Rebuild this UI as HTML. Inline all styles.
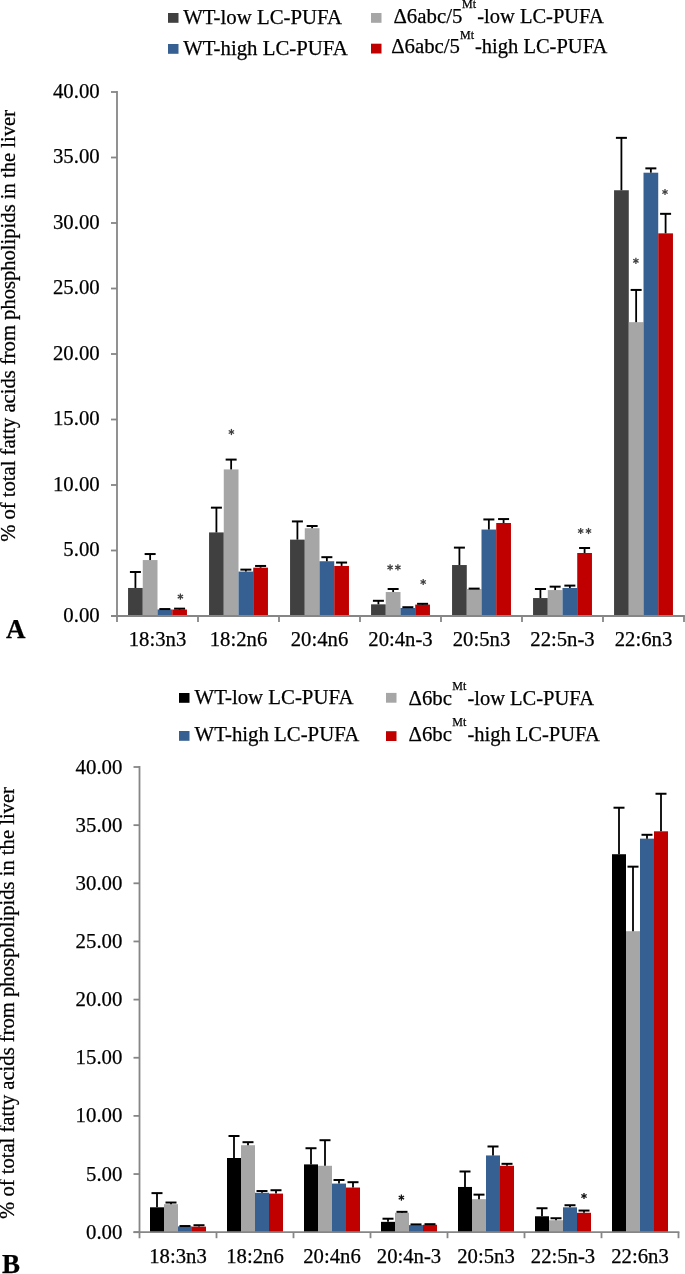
<!DOCTYPE html>
<html><head><meta charset="utf-8"><style>
html,body{margin:0;padding:0;background:#fff;}
svg{display:block;will-change:transform;filter:blur(0.3px);}
.t{font-family:"Liberation Serif",serif;font-size:20.8px;fill:#000;stroke:#000;stroke-width:0.25px;}
.x{font-family:"Liberation Serif",serif;font-size:20.7px;fill:#000;stroke:#000;stroke-width:0.25px;}
.y{font-family:"Liberation Serif",serif;font-size:20.6px;fill:#000;stroke:#000;stroke-width:0.25px;}
.s{font-family:"Liberation Serif",serif;font-size:12px;fill:#000;stroke:#000;stroke-width:0.25px;}
.L{font-family:"Liberation Serif",serif;font-size:27px;font-weight:bold;fill:#000;stroke:#000;stroke-width:0.25px;}
</style></head><body>
<svg width="685" height="1274" viewBox="0 0 685 1274">
<rect width="685" height="1274" fill="#fff"/>
<rect x="168" y="13" width="10.5" height="9.8" fill="#404040"/>
<text x="183.2" y="23.6" class="t">WT-low LC-PUFA</text>
<rect x="168" y="44" width="10.5" height="9.8" fill="#376092"/>
<text x="183.2" y="54.6" class="t">WT-high LC-PUFA</text>
<rect x="371" y="13" width="10.5" height="9.8" fill="#A6A6A6"/>
<text x="393.5" y="23.2" class="t">&#916;6abc/5</text><text x="462" y="8.4" class="s">Mt</text><text x="477.2" y="23.2" class="t" style="font-size:20.5px">-low LC-PUFA</text>
<rect x="371" y="43.7" width="10.5" height="9.8" fill="#C00000"/>
<text x="391.2" y="53.4" class="t">&#916;6abc/5</text><text x="460" y="38.6" class="s">Mt</text><text x="475" y="53.4" class="t" style="font-size:20.5px">-high LC-PUFA</text>
<rect x="128.05" y="587.97" width="14.73" height="28.03" fill="#404040"/>
<rect x="209.05" y="532.42" width="14.73" height="83.58" fill="#404040"/>
<rect x="290.05" y="539.63" width="14.73" height="76.37" fill="#404040"/>
<rect x="371.05" y="604.34" width="14.73" height="11.66" fill="#404040"/>
<rect x="452.05" y="565.04" width="14.73" height="50.96" fill="#404040"/>
<rect x="533.05" y="598.05" width="14.73" height="17.95" fill="#404040"/>
<rect x="614.05" y="190.25" width="14.73" height="425.75" fill="#404040"/>
<rect x="142.77" y="560.06" width="14.73" height="55.94" fill="#A6A6A6"/>
<rect x="223.77" y="469.41" width="14.73" height="146.59" fill="#A6A6A6"/>
<rect x="304.77" y="528.23" width="14.73" height="87.77" fill="#A6A6A6"/>
<rect x="385.77" y="592.03" width="14.73" height="23.97" fill="#A6A6A6"/>
<rect x="466.77" y="589.01" width="14.73" height="26.99" fill="#A6A6A6"/>
<rect x="547.77" y="590.06" width="14.73" height="25.94" fill="#A6A6A6"/>
<rect x="628.77" y="322.17" width="14.73" height="293.83" fill="#A6A6A6"/>
<rect x="157.50" y="609.45" width="14.73" height="6.55" fill="#376092"/>
<rect x="238.50" y="571.59" width="14.73" height="44.41" fill="#376092"/>
<rect x="319.50" y="561.24" width="14.73" height="54.76" fill="#376092"/>
<rect x="400.50" y="608.01" width="14.73" height="7.99" fill="#376092"/>
<rect x="481.50" y="529.54" width="14.73" height="86.46" fill="#376092"/>
<rect x="562.50" y="587.97" width="14.73" height="28.03" fill="#376092"/>
<rect x="643.50" y="172.70" width="14.73" height="443.30" fill="#376092"/>
<rect x="172.23" y="609.58" width="14.73" height="6.42" fill="#C00000"/>
<rect x="253.23" y="567.66" width="14.73" height="48.34" fill="#C00000"/>
<rect x="334.23" y="565.96" width="14.73" height="50.04" fill="#C00000"/>
<rect x="415.23" y="604.60" width="14.73" height="11.40" fill="#C00000"/>
<rect x="496.23" y="522.99" width="14.73" height="93.01" fill="#C00000"/>
<rect x="577.23" y="552.99" width="14.73" height="63.01" fill="#C00000"/>
<rect x="658.23" y="233.35" width="14.73" height="382.65" fill="#C00000"/>
<line x1="135.41" y1="587.97" x2="135.41" y2="571.98" stroke="#000" stroke-width="1.8"/>
<line x1="129.91" y1="571.98" x2="140.91" y2="571.98" stroke="#000" stroke-width="2"/>
<line x1="216.41" y1="532.42" x2="216.41" y2="507.66" stroke="#000" stroke-width="1.8"/>
<line x1="210.91" y1="507.66" x2="221.91" y2="507.66" stroke="#000" stroke-width="2"/>
<line x1="297.41" y1="539.63" x2="297.41" y2="521.42" stroke="#000" stroke-width="1.8"/>
<line x1="291.91" y1="521.42" x2="302.91" y2="521.42" stroke="#000" stroke-width="2"/>
<line x1="378.41" y1="604.34" x2="378.41" y2="600.80" stroke="#000" stroke-width="1.8"/>
<line x1="372.91" y1="600.80" x2="383.91" y2="600.80" stroke="#000" stroke-width="2"/>
<line x1="459.41" y1="565.04" x2="459.41" y2="547.62" stroke="#000" stroke-width="1.8"/>
<line x1="453.91" y1="547.62" x2="464.91" y2="547.62" stroke="#000" stroke-width="2"/>
<line x1="540.41" y1="598.05" x2="540.41" y2="589.01" stroke="#000" stroke-width="1.8"/>
<line x1="534.91" y1="589.01" x2="545.91" y2="589.01" stroke="#000" stroke-width="2"/>
<line x1="621.41" y1="190.25" x2="621.41" y2="137.85" stroke="#000" stroke-width="1.8"/>
<line x1="615.91" y1="137.85" x2="626.91" y2="137.85" stroke="#000" stroke-width="2"/>
<line x1="150.14" y1="560.06" x2="150.14" y2="554.04" stroke="#000" stroke-width="1.8"/>
<line x1="144.64" y1="554.04" x2="155.64" y2="554.04" stroke="#000" stroke-width="2"/>
<line x1="231.14" y1="469.41" x2="231.14" y2="459.59" stroke="#000" stroke-width="1.8"/>
<line x1="225.64" y1="459.59" x2="236.64" y2="459.59" stroke="#000" stroke-width="2"/>
<line x1="312.14" y1="528.23" x2="312.14" y2="526.00" stroke="#000" stroke-width="1.8"/>
<line x1="306.64" y1="526.00" x2="317.64" y2="526.00" stroke="#000" stroke-width="2"/>
<line x1="393.14" y1="592.03" x2="393.14" y2="589.01" stroke="#000" stroke-width="1.8"/>
<line x1="387.64" y1="589.01" x2="398.64" y2="589.01" stroke="#000" stroke-width="2"/>
<line x1="474.14" y1="589.01" x2="474.14" y2="588.62" stroke="#000" stroke-width="1.8"/>
<line x1="468.64" y1="588.62" x2="479.64" y2="588.62" stroke="#000" stroke-width="2"/>
<line x1="555.14" y1="590.06" x2="555.14" y2="586.66" stroke="#000" stroke-width="1.8"/>
<line x1="549.64" y1="586.66" x2="560.64" y2="586.66" stroke="#000" stroke-width="2"/>
<line x1="636.14" y1="322.17" x2="636.14" y2="289.94" stroke="#000" stroke-width="1.8"/>
<line x1="630.64" y1="289.94" x2="641.64" y2="289.94" stroke="#000" stroke-width="2"/>
<line x1="164.86" y1="609.45" x2="164.86" y2="609.06" stroke="#000" stroke-width="1.8"/>
<line x1="159.36" y1="609.06" x2="170.36" y2="609.06" stroke="#000" stroke-width="2"/>
<line x1="245.86" y1="571.59" x2="245.86" y2="569.63" stroke="#000" stroke-width="1.8"/>
<line x1="240.36" y1="569.63" x2="251.36" y2="569.63" stroke="#000" stroke-width="2"/>
<line x1="326.86" y1="561.24" x2="326.86" y2="557.18" stroke="#000" stroke-width="1.8"/>
<line x1="321.36" y1="557.18" x2="332.36" y2="557.18" stroke="#000" stroke-width="2"/>
<line x1="407.86" y1="608.01" x2="407.86" y2="607.22" stroke="#000" stroke-width="1.8"/>
<line x1="402.36" y1="607.22" x2="413.36" y2="607.22" stroke="#000" stroke-width="2"/>
<line x1="488.86" y1="529.54" x2="488.86" y2="519.45" stroke="#000" stroke-width="1.8"/>
<line x1="483.36" y1="519.45" x2="494.36" y2="519.45" stroke="#000" stroke-width="2"/>
<line x1="569.86" y1="587.97" x2="569.86" y2="585.61" stroke="#000" stroke-width="1.8"/>
<line x1="564.36" y1="585.61" x2="575.36" y2="585.61" stroke="#000" stroke-width="2"/>
<line x1="650.86" y1="172.70" x2="650.86" y2="168.37" stroke="#000" stroke-width="1.8"/>
<line x1="645.36" y1="168.37" x2="656.36" y2="168.37" stroke="#000" stroke-width="2"/>
<line x1="179.59" y1="609.58" x2="179.59" y2="608.66" stroke="#000" stroke-width="1.8"/>
<line x1="174.09" y1="608.66" x2="185.09" y2="608.66" stroke="#000" stroke-width="2"/>
<line x1="260.59" y1="567.66" x2="260.59" y2="565.96" stroke="#000" stroke-width="1.8"/>
<line x1="255.09" y1="565.96" x2="266.09" y2="565.96" stroke="#000" stroke-width="2"/>
<line x1="341.59" y1="565.96" x2="341.59" y2="562.55" stroke="#000" stroke-width="1.8"/>
<line x1="336.09" y1="562.55" x2="347.09" y2="562.55" stroke="#000" stroke-width="2"/>
<line x1="422.59" y1="604.60" x2="422.59" y2="603.82" stroke="#000" stroke-width="1.8"/>
<line x1="417.09" y1="603.82" x2="428.09" y2="603.82" stroke="#000" stroke-width="2"/>
<line x1="503.59" y1="522.99" x2="503.59" y2="519.06" stroke="#000" stroke-width="1.8"/>
<line x1="498.09" y1="519.06" x2="509.09" y2="519.06" stroke="#000" stroke-width="2"/>
<line x1="584.59" y1="552.99" x2="584.59" y2="548.01" stroke="#000" stroke-width="1.8"/>
<line x1="579.09" y1="548.01" x2="590.09" y2="548.01" stroke="#000" stroke-width="2"/>
<line x1="665.59" y1="233.35" x2="665.59" y2="213.83" stroke="#000" stroke-width="1.8"/>
<line x1="660.09" y1="213.83" x2="671.09" y2="213.83" stroke="#000" stroke-width="2"/>
<line x1="117" y1="91.00" x2="117" y2="622.00" stroke="#868686" stroke-width="1.8"/>
<line x1="111" y1="616" x2="684.90" y2="616" stroke="#868686" stroke-width="1.8"/>
<line x1="111" y1="616.00" x2="117" y2="616.00" stroke="#868686" stroke-width="1.8"/>
<text x="99.7" y="621.90" text-anchor="end" class="t">0.00</text>
<line x1="111" y1="550.50" x2="117" y2="550.50" stroke="#868686" stroke-width="1.8"/>
<text x="99.7" y="556.40" text-anchor="end" class="t">5.00</text>
<line x1="111" y1="485.00" x2="117" y2="485.00" stroke="#868686" stroke-width="1.8"/>
<text x="99.7" y="490.90" text-anchor="end" class="t">10.00</text>
<line x1="111" y1="419.50" x2="117" y2="419.50" stroke="#868686" stroke-width="1.8"/>
<text x="99.7" y="425.40" text-anchor="end" class="t">15.00</text>
<line x1="111" y1="354.00" x2="117" y2="354.00" stroke="#868686" stroke-width="1.8"/>
<text x="99.7" y="359.90" text-anchor="end" class="t">20.00</text>
<line x1="111" y1="288.50" x2="117" y2="288.50" stroke="#868686" stroke-width="1.8"/>
<text x="99.7" y="294.40" text-anchor="end" class="t">25.00</text>
<line x1="111" y1="223.00" x2="117" y2="223.00" stroke="#868686" stroke-width="1.8"/>
<text x="99.7" y="228.90" text-anchor="end" class="t">30.00</text>
<line x1="111" y1="157.50" x2="117" y2="157.50" stroke="#868686" stroke-width="1.8"/>
<text x="99.7" y="163.40" text-anchor="end" class="t">35.00</text>
<line x1="111" y1="92.00" x2="117" y2="92.00" stroke="#868686" stroke-width="1.8"/>
<text x="99.7" y="97.90" text-anchor="end" class="t">40.00</text>
<line x1="198.00" y1="616" x2="198.00" y2="622.00" stroke="#868686" stroke-width="1.8"/>
<line x1="279.00" y1="616" x2="279.00" y2="622.00" stroke="#868686" stroke-width="1.8"/>
<line x1="360.00" y1="616" x2="360.00" y2="622.00" stroke="#868686" stroke-width="1.8"/>
<line x1="441.00" y1="616" x2="441.00" y2="622.00" stroke="#868686" stroke-width="1.8"/>
<line x1="522.00" y1="616" x2="522.00" y2="622.00" stroke="#868686" stroke-width="1.8"/>
<line x1="603.00" y1="616" x2="603.00" y2="622.00" stroke="#868686" stroke-width="1.8"/>
<line x1="684.00" y1="616" x2="684.00" y2="622.00" stroke="#868686" stroke-width="1.8"/>
<text x="157.50" y="646.4" text-anchor="middle" class="x">18:3n3</text>
<text x="238.50" y="646.4" text-anchor="middle" class="x">18:2n6</text>
<text x="319.50" y="646.4" text-anchor="middle" class="x">20:4n6</text>
<text x="400.50" y="646.4" text-anchor="middle" class="x">20:4n-3</text>
<text x="481.50" y="646.4" text-anchor="middle" class="x">20:5n3</text>
<text x="562.50" y="646.4" text-anchor="middle" class="x">22:5n-3</text>
<text x="643.50" y="646.4" text-anchor="middle" class="x">22:6n3</text>
<text transform="translate(15.1,325.9) rotate(-90)" text-anchor="middle" class="y">% of total fatty acids from phospholipids in the liver</text>
<line x1="180.40" y1="593.50" x2="180.40" y2="599.70" stroke="#404040" stroke-width="1.3"/><line x1="177.72" y1="595.05" x2="183.08" y2="598.15" stroke="#404040" stroke-width="1.3"/><line x1="183.08" y1="595.05" x2="177.72" y2="598.15" stroke="#404040" stroke-width="1.3"/>
<line x1="231.40" y1="428.90" x2="231.40" y2="435.10" stroke="#404040" stroke-width="1.3"/><line x1="228.72" y1="430.45" x2="234.08" y2="433.55" stroke="#404040" stroke-width="1.3"/><line x1="234.08" y1="430.45" x2="228.72" y2="433.55" stroke="#404040" stroke-width="1.3"/>
<line x1="390.10" y1="564.30" x2="390.10" y2="570.50" stroke="#404040" stroke-width="1.3"/><line x1="387.42" y1="565.85" x2="392.78" y2="568.95" stroke="#404040" stroke-width="1.3"/><line x1="392.78" y1="565.85" x2="387.42" y2="568.95" stroke="#404040" stroke-width="1.3"/>
<line x1="397.90" y1="564.30" x2="397.90" y2="570.50" stroke="#404040" stroke-width="1.3"/><line x1="395.22" y1="565.85" x2="400.58" y2="568.95" stroke="#404040" stroke-width="1.3"/><line x1="400.58" y1="565.85" x2="395.22" y2="568.95" stroke="#404040" stroke-width="1.3"/>
<line x1="423.20" y1="578.90" x2="423.20" y2="585.10" stroke="#404040" stroke-width="1.3"/><line x1="420.52" y1="580.45" x2="425.88" y2="583.55" stroke="#404040" stroke-width="1.3"/><line x1="425.88" y1="580.45" x2="420.52" y2="583.55" stroke="#404040" stroke-width="1.3"/>
<line x1="580.70" y1="527.90" x2="580.70" y2="534.10" stroke="#404040" stroke-width="1.3"/><line x1="578.02" y1="529.45" x2="583.38" y2="532.55" stroke="#404040" stroke-width="1.3"/><line x1="583.38" y1="529.45" x2="578.02" y2="532.55" stroke="#404040" stroke-width="1.3"/>
<line x1="588.50" y1="527.90" x2="588.50" y2="534.10" stroke="#404040" stroke-width="1.3"/><line x1="585.82" y1="529.45" x2="591.18" y2="532.55" stroke="#404040" stroke-width="1.3"/><line x1="591.18" y1="529.45" x2="585.82" y2="532.55" stroke="#404040" stroke-width="1.3"/>
<line x1="635.90" y1="257.70" x2="635.90" y2="263.90" stroke="#404040" stroke-width="1.3"/><line x1="633.22" y1="259.25" x2="638.58" y2="262.35" stroke="#404040" stroke-width="1.3"/><line x1="638.58" y1="259.25" x2="633.22" y2="262.35" stroke="#404040" stroke-width="1.3"/>
<line x1="665.00" y1="188.90" x2="665.00" y2="195.10" stroke="#404040" stroke-width="1.3"/><line x1="662.32" y1="190.45" x2="667.68" y2="193.55" stroke="#404040" stroke-width="1.3"/><line x1="667.68" y1="190.45" x2="662.32" y2="193.55" stroke="#404040" stroke-width="1.3"/>
<text x="6" y="638" class="L">A</text>
<rect x="179" y="693" width="10.5" height="9.8" fill="#000000"/>
<text x="194.6" y="704.4" class="t">WT-low LC-PUFA</text>
<rect x="179" y="731" width="10.5" height="9.8" fill="#376092"/>
<text x="194.6" y="741.4" class="t">WT-high LC-PUFA</text>
<rect x="386" y="692.9" width="10.5" height="9.8" fill="#A6A6A6"/>
<text x="408.6" y="704.9" class="t">&#916;6bc</text><text x="452.3" y="690.1" class="s">Mt</text><text x="467.4" y="704.9" class="t" style="font-size:20.5px">-low LC-PUFA</text>
<rect x="386" y="731.2" width="10.5" height="9.8" fill="#C00000"/>
<text x="408.6" y="740.7" class="t">&#916;6bc</text><text x="452.3" y="725.9" class="s">Mt</text><text x="467.4" y="740.7" class="t" style="font-size:20.5px">-high LC-PUFA</text>
<rect x="150.00" y="1207.31" width="14.00" height="24.89" fill="#000000"/>
<rect x="227.00" y="1158.00" width="14.00" height="74.20" fill="#000000"/>
<rect x="304.00" y="1164.40" width="14.00" height="67.80" fill="#000000"/>
<rect x="381.00" y="1221.85" width="14.00" height="10.35" fill="#000000"/>
<rect x="458.00" y="1186.96" width="14.00" height="45.24" fill="#000000"/>
<rect x="535.00" y="1216.27" width="14.00" height="15.93" fill="#000000"/>
<rect x="612.00" y="854.23" width="14.00" height="377.98" fill="#000000"/>
<rect x="164.00" y="1204.17" width="14.00" height="28.03" fill="#A6A6A6"/>
<rect x="241.00" y="1145.21" width="14.00" height="86.99" fill="#A6A6A6"/>
<rect x="318.00" y="1165.79" width="14.00" height="66.41" fill="#A6A6A6"/>
<rect x="395.00" y="1212.78" width="14.00" height="19.42" fill="#A6A6A6"/>
<rect x="472.00" y="1199.17" width="14.00" height="33.03" fill="#A6A6A6"/>
<rect x="549.00" y="1220.22" width="14.00" height="11.98" fill="#A6A6A6"/>
<rect x="626.00" y="931.22" width="14.00" height="300.98" fill="#A6A6A6"/>
<rect x="178.00" y="1226.38" width="14.00" height="5.82" fill="#376092"/>
<rect x="255.00" y="1192.77" width="14.00" height="39.43" fill="#376092"/>
<rect x="332.00" y="1183.59" width="14.00" height="48.61" fill="#376092"/>
<rect x="409.00" y="1225.11" width="14.00" height="7.09" fill="#376092"/>
<rect x="486.00" y="1155.44" width="14.00" height="76.76" fill="#376092"/>
<rect x="563.00" y="1207.31" width="14.00" height="24.89" fill="#376092"/>
<rect x="640.00" y="838.64" width="14.00" height="393.56" fill="#376092"/>
<rect x="192.00" y="1226.62" width="14.00" height="5.58" fill="#C00000"/>
<rect x="269.00" y="1193.59" width="14.00" height="38.61" fill="#C00000"/>
<rect x="346.00" y="1187.54" width="14.00" height="44.66" fill="#C00000"/>
<rect x="423.00" y="1224.76" width="14.00" height="7.44" fill="#C00000"/>
<rect x="500.00" y="1165.79" width="14.00" height="66.41" fill="#C00000"/>
<rect x="577.00" y="1212.78" width="14.00" height="19.42" fill="#C00000"/>
<rect x="654.00" y="831.31" width="14.00" height="400.89" fill="#C00000"/>
<line x1="157.00" y1="1207.31" x2="157.00" y2="1193.12" stroke="#000" stroke-width="1.8"/>
<line x1="151.50" y1="1193.12" x2="162.50" y2="1193.12" stroke="#000" stroke-width="2"/>
<line x1="234.00" y1="1158.00" x2="234.00" y2="1136.02" stroke="#000" stroke-width="1.8"/>
<line x1="228.50" y1="1136.02" x2="239.50" y2="1136.02" stroke="#000" stroke-width="2"/>
<line x1="311.00" y1="1164.40" x2="311.00" y2="1148.23" stroke="#000" stroke-width="1.8"/>
<line x1="305.50" y1="1148.23" x2="316.50" y2="1148.23" stroke="#000" stroke-width="2"/>
<line x1="388.00" y1="1221.85" x2="388.00" y2="1218.71" stroke="#000" stroke-width="1.8"/>
<line x1="382.50" y1="1218.71" x2="393.50" y2="1218.71" stroke="#000" stroke-width="2"/>
<line x1="465.00" y1="1186.96" x2="465.00" y2="1171.49" stroke="#000" stroke-width="1.8"/>
<line x1="459.50" y1="1171.49" x2="470.50" y2="1171.49" stroke="#000" stroke-width="2"/>
<line x1="542.00" y1="1216.27" x2="542.00" y2="1208.24" stroke="#000" stroke-width="1.8"/>
<line x1="536.50" y1="1208.24" x2="547.50" y2="1208.24" stroke="#000" stroke-width="2"/>
<line x1="619.00" y1="854.23" x2="619.00" y2="807.71" stroke="#000" stroke-width="1.8"/>
<line x1="613.50" y1="807.71" x2="624.50" y2="807.71" stroke="#000" stroke-width="2"/>
<line x1="171.00" y1="1204.17" x2="171.00" y2="1202.54" stroke="#000" stroke-width="1.8"/>
<line x1="165.50" y1="1202.54" x2="176.50" y2="1202.54" stroke="#000" stroke-width="2"/>
<line x1="248.00" y1="1145.21" x2="248.00" y2="1142.18" stroke="#000" stroke-width="1.8"/>
<line x1="242.50" y1="1142.18" x2="253.50" y2="1142.18" stroke="#000" stroke-width="2"/>
<line x1="325.00" y1="1165.79" x2="325.00" y2="1140.21" stroke="#000" stroke-width="1.8"/>
<line x1="319.50" y1="1140.21" x2="330.50" y2="1140.21" stroke="#000" stroke-width="2"/>
<line x1="402.00" y1="1212.78" x2="402.00" y2="1211.85" stroke="#000" stroke-width="1.8"/>
<line x1="396.50" y1="1211.85" x2="407.50" y2="1211.85" stroke="#000" stroke-width="2"/>
<line x1="479.00" y1="1199.17" x2="479.00" y2="1194.64" stroke="#000" stroke-width="1.8"/>
<line x1="473.50" y1="1194.64" x2="484.50" y2="1194.64" stroke="#000" stroke-width="2"/>
<line x1="556.00" y1="1220.22" x2="556.00" y2="1218.24" stroke="#000" stroke-width="1.8"/>
<line x1="550.50" y1="1218.24" x2="561.50" y2="1218.24" stroke="#000" stroke-width="2"/>
<line x1="633.00" y1="931.22" x2="633.00" y2="866.67" stroke="#000" stroke-width="1.8"/>
<line x1="627.50" y1="866.67" x2="638.50" y2="866.67" stroke="#000" stroke-width="2"/>
<line x1="185.00" y1="1226.38" x2="185.00" y2="1226.04" stroke="#000" stroke-width="1.8"/>
<line x1="179.50" y1="1226.04" x2="190.50" y2="1226.04" stroke="#000" stroke-width="2"/>
<line x1="262.00" y1="1192.77" x2="262.00" y2="1191.03" stroke="#000" stroke-width="1.8"/>
<line x1="256.50" y1="1191.03" x2="267.50" y2="1191.03" stroke="#000" stroke-width="2"/>
<line x1="339.00" y1="1183.59" x2="339.00" y2="1179.98" stroke="#000" stroke-width="1.8"/>
<line x1="333.50" y1="1179.98" x2="344.50" y2="1179.98" stroke="#000" stroke-width="2"/>
<line x1="416.00" y1="1225.11" x2="416.00" y2="1224.41" stroke="#000" stroke-width="1.8"/>
<line x1="410.50" y1="1224.41" x2="421.50" y2="1224.41" stroke="#000" stroke-width="2"/>
<line x1="493.00" y1="1155.44" x2="493.00" y2="1146.49" stroke="#000" stroke-width="1.8"/>
<line x1="487.50" y1="1146.49" x2="498.50" y2="1146.49" stroke="#000" stroke-width="2"/>
<line x1="570.00" y1="1207.31" x2="570.00" y2="1205.22" stroke="#000" stroke-width="1.8"/>
<line x1="564.50" y1="1205.22" x2="575.50" y2="1205.22" stroke="#000" stroke-width="2"/>
<line x1="647.00" y1="838.64" x2="647.00" y2="834.80" stroke="#000" stroke-width="1.8"/>
<line x1="641.50" y1="834.80" x2="652.50" y2="834.80" stroke="#000" stroke-width="2"/>
<line x1="199.00" y1="1226.62" x2="199.00" y2="1225.22" stroke="#000" stroke-width="1.8"/>
<line x1="193.50" y1="1225.22" x2="204.50" y2="1225.22" stroke="#000" stroke-width="2"/>
<line x1="276.00" y1="1193.59" x2="276.00" y2="1190.22" stroke="#000" stroke-width="1.8"/>
<line x1="270.50" y1="1190.22" x2="281.50" y2="1190.22" stroke="#000" stroke-width="2"/>
<line x1="353.00" y1="1187.54" x2="353.00" y2="1182.19" stroke="#000" stroke-width="1.8"/>
<line x1="347.50" y1="1182.19" x2="358.50" y2="1182.19" stroke="#000" stroke-width="2"/>
<line x1="430.00" y1="1224.76" x2="430.00" y2="1224.18" stroke="#000" stroke-width="1.8"/>
<line x1="424.50" y1="1224.18" x2="435.50" y2="1224.18" stroke="#000" stroke-width="2"/>
<line x1="507.00" y1="1165.79" x2="507.00" y2="1163.82" stroke="#000" stroke-width="1.8"/>
<line x1="501.50" y1="1163.82" x2="512.50" y2="1163.82" stroke="#000" stroke-width="2"/>
<line x1="584.00" y1="1212.78" x2="584.00" y2="1210.57" stroke="#000" stroke-width="1.8"/>
<line x1="578.50" y1="1210.57" x2="589.50" y2="1210.57" stroke="#000" stroke-width="2"/>
<line x1="661.00" y1="831.31" x2="661.00" y2="793.75" stroke="#000" stroke-width="1.8"/>
<line x1="655.50" y1="793.75" x2="666.50" y2="793.75" stroke="#000" stroke-width="2"/>
<line x1="139.5" y1="766.00" x2="139.5" y2="1238.20" stroke="#868686" stroke-width="1.8"/>
<line x1="133.5" y1="1232.2" x2="679.40" y2="1232.2" stroke="#868686" stroke-width="1.8"/>
<line x1="133.5" y1="1232.20" x2="139.5" y2="1232.20" stroke="#868686" stroke-width="1.8"/>
<text x="122.4" y="1238.70" text-anchor="end" class="t">0.00</text>
<line x1="133.5" y1="1174.05" x2="139.5" y2="1174.05" stroke="#868686" stroke-width="1.8"/>
<text x="122.4" y="1180.55" text-anchor="end" class="t">5.00</text>
<line x1="133.5" y1="1115.90" x2="139.5" y2="1115.90" stroke="#868686" stroke-width="1.8"/>
<text x="122.4" y="1122.40" text-anchor="end" class="t">10.00</text>
<line x1="133.5" y1="1057.75" x2="139.5" y2="1057.75" stroke="#868686" stroke-width="1.8"/>
<text x="122.4" y="1064.25" text-anchor="end" class="t">15.00</text>
<line x1="133.5" y1="999.60" x2="139.5" y2="999.60" stroke="#868686" stroke-width="1.8"/>
<text x="122.4" y="1006.10" text-anchor="end" class="t">20.00</text>
<line x1="133.5" y1="941.45" x2="139.5" y2="941.45" stroke="#868686" stroke-width="1.8"/>
<text x="122.4" y="947.95" text-anchor="end" class="t">25.00</text>
<line x1="133.5" y1="883.30" x2="139.5" y2="883.30" stroke="#868686" stroke-width="1.8"/>
<text x="122.4" y="889.80" text-anchor="end" class="t">30.00</text>
<line x1="133.5" y1="825.15" x2="139.5" y2="825.15" stroke="#868686" stroke-width="1.8"/>
<text x="122.4" y="831.65" text-anchor="end" class="t">35.00</text>
<line x1="133.5" y1="767.00" x2="139.5" y2="767.00" stroke="#868686" stroke-width="1.8"/>
<text x="122.4" y="773.50" text-anchor="end" class="t">40.00</text>
<line x1="216.50" y1="1232.2" x2="216.50" y2="1238.20" stroke="#868686" stroke-width="1.8"/>
<line x1="293.50" y1="1232.2" x2="293.50" y2="1238.20" stroke="#868686" stroke-width="1.8"/>
<line x1="370.50" y1="1232.2" x2="370.50" y2="1238.20" stroke="#868686" stroke-width="1.8"/>
<line x1="447.50" y1="1232.2" x2="447.50" y2="1238.20" stroke="#868686" stroke-width="1.8"/>
<line x1="524.50" y1="1232.2" x2="524.50" y2="1238.20" stroke="#868686" stroke-width="1.8"/>
<line x1="601.50" y1="1232.2" x2="601.50" y2="1238.20" stroke="#868686" stroke-width="1.8"/>
<line x1="678.50" y1="1232.2" x2="678.50" y2="1238.20" stroke="#868686" stroke-width="1.8"/>
<text x="178.00" y="1262.6" text-anchor="middle" class="x">18:3n3</text>
<text x="255.00" y="1262.6" text-anchor="middle" class="x">18:2n6</text>
<text x="332.00" y="1262.6" text-anchor="middle" class="x">20:4n6</text>
<text x="409.00" y="1262.6" text-anchor="middle" class="x">20:4n-3</text>
<text x="486.00" y="1262.6" text-anchor="middle" class="x">20:5n3</text>
<text x="563.00" y="1262.6" text-anchor="middle" class="x">22:5n-3</text>
<text x="640.00" y="1262.6" text-anchor="middle" class="x">22:6n3</text>
<text transform="translate(14.3,1003) rotate(-90)" text-anchor="middle" class="y">% of total fatty acids from phospholipids in the liver</text>
<line x1="401.40" y1="1194.50" x2="401.40" y2="1200.70" stroke="#111" stroke-width="1.3"/><line x1="398.72" y1="1196.05" x2="404.08" y2="1199.15" stroke="#111" stroke-width="1.3"/><line x1="404.08" y1="1196.05" x2="398.72" y2="1199.15" stroke="#111" stroke-width="1.3"/>
<line x1="584.00" y1="1192.90" x2="584.00" y2="1199.10" stroke="#111" stroke-width="1.3"/><line x1="581.32" y1="1194.45" x2="586.68" y2="1197.55" stroke="#111" stroke-width="1.3"/><line x1="586.68" y1="1194.45" x2="581.32" y2="1197.55" stroke="#111" stroke-width="1.3"/>
<text x="2" y="1273" class="L">B</text>
</svg>
</body></html>
